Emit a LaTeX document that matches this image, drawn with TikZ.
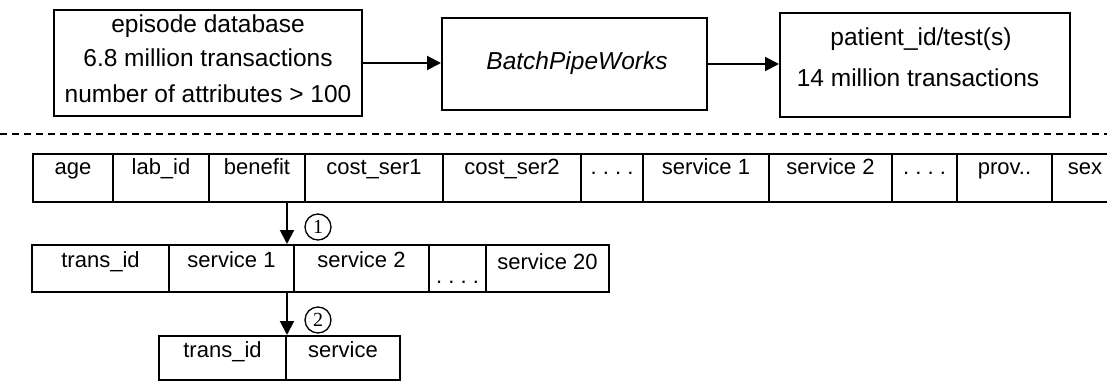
\documentclass[tikz,border=0pt]{standalone}
\usepackage{fontspec}
\setmainfont{Liberation Sans}
\newfontfamily\circfont{Liberation Serif}
\usetikzlibrary{arrows.meta}
\begin{document}
\begin{tikzpicture}[x=1pt,y=-1pt,
  box/.style={draw, line width=2pt, inner sep=0pt},
  toptext/.style={anchor=base, inner sep=0pt, font=\fontsize{24.5pt}{29pt}\selectfont},
  cellbase/.style={draw, line width=2pt, inner sep=0pt, font=\fontsize{22pt}{26pt}\selectfont},
  rowone/.style={cellbase, minimum height=48pt, text height=16pt, text depth=22pt},
  rowtwo/.style={cellbase, minimum height=47pt, text height=16pt, text depth=19pt},
  rowtwodots/.style={cellbase, minimum height=47pt, text height=30pt, text depth=1pt},
  rowtwohigh/.style={cellbase, minimum height=47pt, text height=18pt, text depth=17pt},
  rowthree/.style={cellbase, minimum height=44pt, text height=16pt, text depth=18pt},
  arr/.style={line width=2pt, -{Triangle[length=14pt,width=14pt]}},
  num/.style={circle, draw, line width=1.3pt, minimum size=26pt, inner sep=0pt, font=\circfont\fontsize{20pt}{22pt}\selectfont},
  sep/.style={line width=1.4pt, dash pattern=on 7pt off 5pt}
]
\clip (0,0) rectangle (1107,382);

% top boxes
\node[box, minimum width=308pt, minimum height=106pt] (epi) at (208,63) {};
\node[toptext] (epiA) at (208,33) {episode database};
\node[toptext] (epiB) at (208,67) {6.8 million transactions};
\node[toptext] (epiC) at (208,103) {number of attributes > 100};

\node[box, minimum width=265pt, minimum height=92pt] (bpw) at (574.5,64) {};
\node[toptext] (bpwT) at (577,70) {\itshape BatchPipeWorks};

\node[box, minimum width=290pt, minimum height=104pt] (pat) at (925,65) {};
\node[toptext] (patA) at (921,46) {patient\_id/test(s)};
\node[toptext] (patB) at (918,87) {14 million transactions};

\draw[arr] (epi.east) -- (epi.east -| bpw.west);
\draw[arr] (bpw.east) -- (bpw.east -| pat.west);

% dashed separator
\coordinate (dl) at (0,134);
\coordinate (dr) at (1107,134);
\draw[sep] (dl) -- (dr);

% row 1
\node[rowone, minimum width=80pt]  (age)  at (73,178)    {age};
\node[rowone, minimum width=96pt]  (lab)  at (161,178)   {lab\_id};
\node[rowone, minimum width=96pt]  (ben)  at (257,178)   {benefit};
\node[rowone, minimum width=138pt] (cs1)  at (374,178)   {cost\_ser1};
\node[rowone, minimum width=138pt] (cs2)  at (512,178)   {cost\_ser2};
\node[rowone, minimum width=62pt]  (dA)   at (612,178)   {.\ .\ .\ .};
\node[rowone, minimum width=126pt] (sv1)  at (706,178)   {service 1};
\node[rowone, minimum width=123pt] (sv2)  at (830.5,178) {service 2};
\node[rowone, minimum width=65pt]  (dB)   at (924.5,178) {.\ .\ .\ .};
\node[rowone, minimum width=95pt]  (prov) at (1004.5,178){prov..};
\node[rowone, minimum width=66pt]  (sex)  at (1085,178)  {sex};

% row 2
\node[rowtwo, minimum width=137pt] (tid)  at (100.5,268.5) {trans\_id};
\node[rowtwo, minimum width=125pt] (s1)   at (231.5,268.5) {service 1};
\node[rowtwo, minimum width=135pt] (s2)   at (361.5,268.5) {service 2};
\node[rowtwodots, minimum width=57pt] (dC) at (457.5,268.5) {.\ .\ .\ .};
\node[rowtwohigh, minimum width=123pt] (s20) at (547.5,268.5) {service 20};

% row 3
\node[rowthree, minimum width=127pt] (tidb) at (222.5,358) {trans\_id};
\node[rowthree, minimum width=114pt] (svc)  at (343,358)   {service};

% arrows between rows
\draw[arr] (ben.south -| tidb.east) -- (s1.north -| tidb.east);
\draw[arr] (s1.south -| tidb.east) -- (tidb.north east);
\node[num] (n1) at (318,227) {1};
\node[num] (n2) at (318,320) {2};
\end{tikzpicture}
\end{document}
